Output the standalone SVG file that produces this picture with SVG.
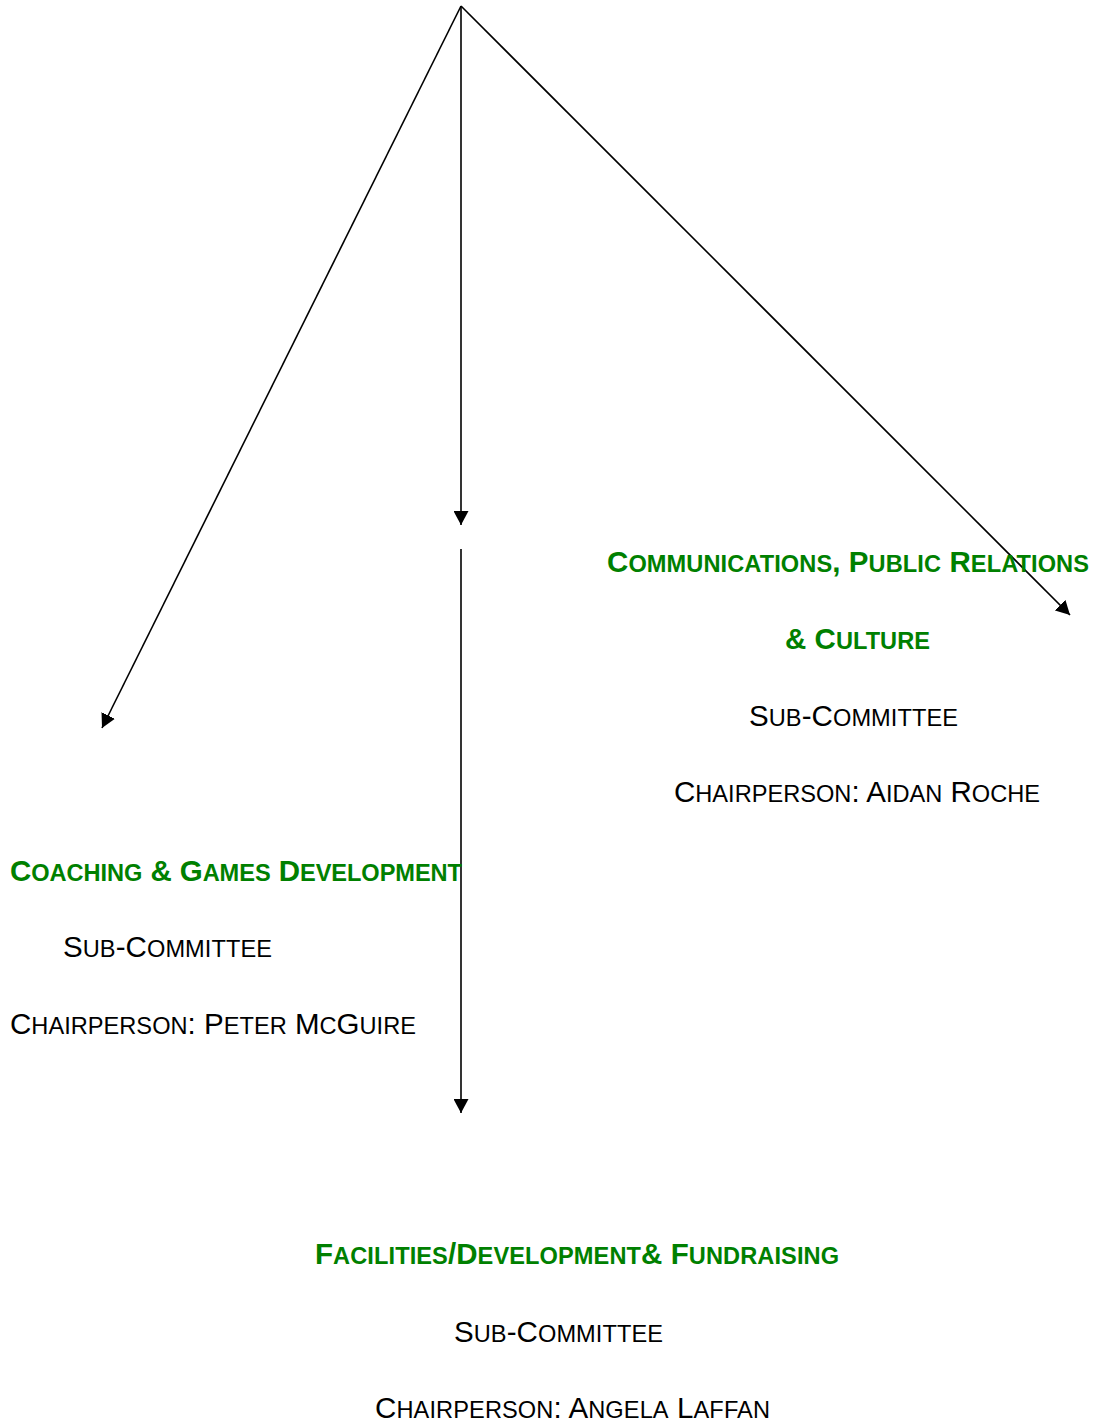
<svg xmlns="http://www.w3.org/2000/svg" width="1097" height="1423" viewBox="0 0 1097 1423">
<style>
text{font-family:"Liberation Sans",Arial,sans-serif;font-size:29.5px}
.h{fill:#008000;font-weight:bold}
.n{fill:#000}
.s{font-size:23.6px}
.c{stroke:#000;stroke-width:1.6;fill:none}
</style>
<defs>
<marker id="ah" markerWidth="14" markerHeight="15" refX="14" refY="7.5" orient="auto" markerUnits="userSpaceOnUse">
<path d="M0,0 L14,7.5 L0,15 Z" fill="#000"/>
</marker>
</defs>
<rect width="1097" height="1423" fill="#fff"/>
<g id="connectors">
<line class="c" x1="461" y1="6" x2="102" y2="728" marker-end="url(#ah)"/>
<line class="c" x1="461" y1="6" x2="461" y2="525" marker-end="url(#ah)"/>
<line class="c" x1="461" y1="6" x2="1070" y2="615" marker-end="url(#ah)"/>
<line class="c" x1="461" y1="549" x2="461" y2="1113" marker-end="url(#ah)"/>
</g>
<g id="coaching">
<text class="h" x="10" y="881" textLength="452" lengthAdjust="spacing">C<tspan class="s">OACHING</tspan> &amp; G<tspan class="s">AMES</tspan> D<tspan class="s">EVELOPMENT</tspan></text>
<text class="n" x="63" y="957" textLength="209" lengthAdjust="spacing">S<tspan class="s">UB</tspan>-C<tspan class="s">OMMITTEE</tspan></text>
<text class="n" x="10" y="1034" textLength="406" lengthAdjust="spacing">C<tspan class="s">HAIRPERSON</tspan>: P<tspan class="s">ETER</tspan> M<tspan class="s">C</tspan>G<tspan class="s">UIRE</tspan></text>
</g>
<g id="communications">
<text class="h" x="607" y="572" textLength="482" lengthAdjust="spacing">C<tspan class="s">OMMUNICATIONS</tspan>, P<tspan class="s">UBLIC</tspan> R<tspan class="s">ELATIONS</tspan></text>
<text class="h" x="785" y="649" textLength="145" lengthAdjust="spacing">&amp; C<tspan class="s">ULTURE</tspan></text>
<text class="n" x="749" y="726" textLength="209" lengthAdjust="spacing">S<tspan class="s">UB</tspan>-C<tspan class="s">OMMITTEE</tspan></text>
<text class="n" x="674" y="802" textLength="366" lengthAdjust="spacing">C<tspan class="s">HAIRPERSON</tspan>: A<tspan class="s">IDAN</tspan> R<tspan class="s">OCHE</tspan></text>
</g>
<g id="facilities">
<text class="h" x="315" y="1264" textLength="524" lengthAdjust="spacing">F<tspan class="s">ACILITIES</tspan>/D<tspan class="s">EVELOPMENT</tspan>&amp; F<tspan class="s">UNDRAISING</tspan></text>
<text class="n" x="454" y="1342" textLength="209" lengthAdjust="spacing">S<tspan class="s">UB</tspan>-C<tspan class="s">OMMITTEE</tspan></text>
<text class="n" x="375" y="1418" textLength="395" lengthAdjust="spacing">C<tspan class="s">HAIRPERSON</tspan>: A<tspan class="s">NGELA</tspan> L<tspan class="s">AFFAN</tspan></text>
</g>
</svg>
